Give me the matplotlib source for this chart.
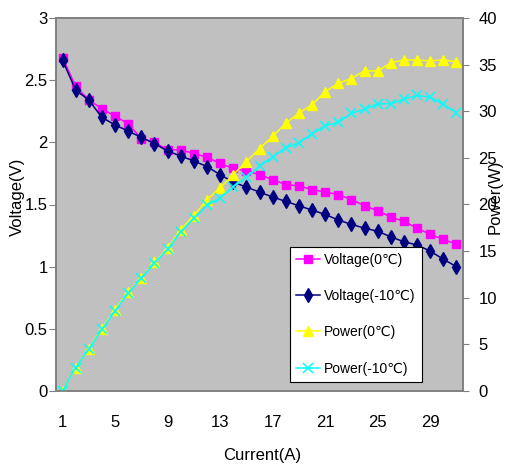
import matplotlib
matplotlib.use("Agg")
import matplotlib.pyplot as plt
from matplotlib.ticker import FixedLocator
import numpy as np

plt.rcParams['font.family'] = ['Liberation Sans', 'DejaVu Sans']

# data
current = list(range(1, 32))
volt_0 = [2.68, 2.45, 2.34, 2.27, 2.21, 2.15, 2.03, 2.00, 1.94, 1.94,
          1.91, 1.88, 1.83, 1.79, 1.77, 1.74, 1.70, 1.66, 1.65, 1.62,
          1.60, 1.58, 1.54, 1.49, 1.45, 1.40, 1.365, 1.31, 1.26, 1.22, 1.18]
volt_m10 = [2.66, 2.42, 2.34, 2.20, 2.14, 2.09, 2.04, 1.99, 1.93, 1.89,
            1.85, 1.805, 1.74, 1.68, 1.64, 1.60, 1.56, 1.525, 1.49, 1.455,
            1.42, 1.375, 1.34, 1.31, 1.285, 1.24, 1.20, 1.175, 1.125, 1.06, 1.00]
power_0 = [0, 2.45, 4.55, 6.7, 8.7, 10.6, 12.1, 13.8, 15.3, 17.3,
           18.8, 20.5, 21.8, 23.2, 24.6, 26.0, 27.3, 28.7, 29.8, 30.7,
           32.1, 33.0, 33.5, 34.35, 34.3, 35.2, 35.5, 35.5, 35.4, 35.5, 35.3]
power_m10 = [0, 2.5, 4.5, 6.6, 8.6, 10.5, 12.1, 13.7, 15.2, 17.1,
             18.5, 19.9, 20.7, 21.9, 22.9, 24.1, 25.1, 26.1, 26.6, 27.6,
             28.45, 28.8, 29.8, 30.2, 30.8, 30.8, 31.3, 31.7, 31.5, 30.75, 29.85]
xtick_vals = [1, 5, 9, 13, 17, 21, 25, 29]
left_ticks = [0, 0.5, 1, 1.5, 2, 2.5, 3]
right_ticks = [0, 5, 10, 15, 20, 25, 30, 35, 40]

fig = plt.figure(figsize=(5.08, 4.70), dpi=100)
ax = fig.add_axes([56/508, 79/470, 407/508, 373/470])
ax.set_facecolor('#C0C0C0')
ax2 = ax.twinx()

l1, = ax.plot(current, volt_0, color='#FF00FF', marker='s', ms=6, lw=1.1,
              label='Voltage(0℃)')
l2, = ax.plot(current, volt_m10, color='#000080', marker='d', ms=7, lw=1.1,
              label='Voltage(-10℃)')
l3, = ax2.plot(current, power_0, color='#FFFF00', marker='^', ms=6.5, lw=1.1,
               label='Power(0℃)')
l4, = ax2.plot(current, power_m10, color='#00FFFF', marker='x', ms=7, mew=1.1,
               lw=1.1, label='Power(-10℃)')

ax.set_xlim(0.5, 31.5)
ax.set_ylim(0, 3)
ax2.set_ylim(0, 40)

ax.xaxis.set_major_locator(FixedLocator(xtick_vals))
ax.set_xticklabels([str(v) for v in xtick_vals], fontsize=12)
ax.tick_params(axis='x', length=0, pad=17)
ax.set_yticks(left_ticks)
ax.set_yticklabels(['0', '0.5', '1', '1.5', '2', '2.5', '3'], fontsize=12)
ax.tick_params(axis='y', length=5, pad=1, color='#808080')
ax2.set_yticks(right_ticks)
ax2.set_yticklabels([str(v) for v in right_ticks], fontsize=12)
ax2.tick_params(axis='y', length=4, pad=7, color='#808080')

for a in (ax, ax2):
    for s in a.spines.values():
        s.set_color('#808080')
        s.set_linewidth(1.2)

ax.set_xlabel('Current(A)', fontsize=12)
ax.xaxis.set_label_coords(0.506, -0.152)
ax.set_ylabel('Voltage(V)', fontsize=12, va='center')
ax.yaxis.set_label_coords(-0.095, 0.52)
ax2.set_ylabel('Power(W)', fontsize=12, rotation=90,
               va='center', ha='center')
ax2.yaxis.set_label_coords(1.08, 0.52)

leg = ax2.legend(handles=[l1, l2, l3, l4], loc='upper left',
                 bbox_to_anchor=(0.575, 0.387), frameon=True, fancybox=False,
                 edgecolor='black', facecolor='white', framealpha=1,
                 prop={'size': 10}, handlelength=1.7,
                 handletextpad=0.3, labelspacing=1.6, borderpad=0.45,
                 borderaxespad=0)
leg.get_frame().set_linewidth(0.8)

fig.savefig('out.png', dpi=100)
